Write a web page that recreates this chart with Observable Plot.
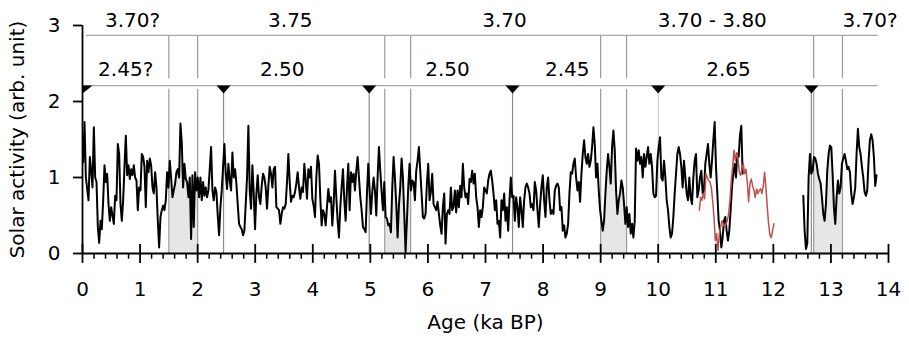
<!DOCTYPE html>
<html><head><meta charset="utf-8">
<script src="https://cdn.jsdelivr.net/npm/d3@7"></script>
<script src="https://cdn.jsdelivr.net/npm/@observablehq/plot@0.6"></script>
<style>html,body{margin:0;padding:0;background:#fff} svg{display:block}</style>
</head><body><div id="chart"></div>
<script>
const blackStartA = 0.012, blackStartB = 12.52, redStart = 10.714, ageStep = 0.02314;

// Black solar-activity series, 0 – 11.5 ka
const blackA = [
1.20,1.73,1.00,0.85,0.70,1.27,1.09,0.87,1.66,1.00,
0.94,0.35,0.14,0.43,0.32,0.70,1.16,0.94,1.05,0.65,
0.43,0.61,0.50,0.39,0.76,0.70,1.44,1.31,0.65,0.43,
0.70,1.14,1.55,1.03,1.16,0.98,1.11,1.03,1.16,1.00,
0.96,0.57,0.87,0.83,1.31,1.27,1.14,0.61,1.22,1.07,
1.25,1.16,0.87,0.79,1.07,0.87,0.43,0.08,0.48,0.57,
0.63,0.57,0.70,1.07,0.87,1.22,1.00,0.74,0.83,0.92,
1.07,1.11,1.00,1.71,1.46,0.87,1.18,0.98,0.94,0.74,
1.00,0.19,1.03,0.35,1.07,0.83,1.00,0.74,1.00,0.70,
0.94,0.76,0.87,0.74,0.83,1.11,1.40,0.83,0.70,0.87,
0.81,0.50,0.24,0.61,0.83,1.14,1.44,1.05,0.85,1.18,
0.96,0.83,1.33,1.00,1.11,0.92,0.65,0.39,0.35,0.32,
0.24,0.30,0.65,1.00,1.68,0.83,0.59,1.16,0.79,0.32,
0.79,1.03,0.74,0.65,0.89,1.05,1.00,0.87,0.59,0.89,
1.14,1.05,0.87,1.11,1.14,0.61,0.59,0.57,0.39,0.52,
0.61,0.59,0.65,0.94,1.31,0.94,0.68,0.76,0.74,0.81,
0.92,1.07,0.87,0.72,0.87,0.81,1.18,0.96,0.72,1.11,
1.00,1.14,0.72,0.63,0.48,1.00,1.29,1.18,0.72,0.37,
0.57,0.52,0.37,0.61,0.85,0.68,0.74,0.37,0.65,1.09,
0.74,0.43,0.21,0.61,0.87,1.11,0.70,0.43,0.85,1.18,
0.57,1.07,0.94,1.05,0.83,1.09,1.27,1.00,0.74,0.57,
0.35,0.32,0.28,0.79,1.18,0.83,0.52,0.81,1.00,0.83,
0.50,1.00,1.40,1.09,0.81,0.57,0.94,0.48,0.46,0.37,
0.39,0.28,0.87,1.27,1.00,0.65,0.21,0.63,0.87,1.25,
1.00,
0.52,0.02,0.43,0.87,1.18,0.83,0.96,0.94,0.70,
1.09,1.22,1.40,1.09,0.79,0.48,0.46,0.52,0.92,1.18,
0.70,0.81,1.05,0.65,0.61,0.57,0.68,0.52,0.37,0.26,
0.61,0.79,0.13,0.52,0.57,0.52,0.87,0.57,0.61,0.83,
0.54,0.83,0.61,0.89,0.74,1.18,0.87,0.74,0.79,0.65,
0.98,0.94,1.09,0.92,1.05,0.74,0.61,0.35,0.57,0.48,
0.61,0.87,0.83,0.79,0.96,1.05,1.09,0.96,0.79,0.57,
0.70,0.39,0.43,0.21,0.70,0.57,0.79,0.43,0.61,0.30,
0.70,1.00,0.74,0.76,0.43,0.74,0.61,0.35,0.74,0.57,
0.35,0.70,0.87,0.92,0.87,0.79,0.61,0.65,0.57,0.94,
0.83,0.57,0.35,0.65,0.87,1.03,0.70,0.48,0.87,1.00,
0.70,0.52,0.57,0.52,0.83,0.89,0.92,0.87,0.57,0.61,
0.30,0.37,0.21,
0.26,0.39,0.79,1.07,1.05,1.18,1.25,1.00,0.83,0.94,
0.68,1.05,1.31,1.49,1.27,1.18,1.31,1.14,1.22,1.40,
1.66,1.44,1.00,1.18,0.83,0.57,0.43,0.30,0.43,0.79,
1.09,1.31,1.14,0.92,1.40,1.62,1.36,0.83,0.52,0.70,
0.79,0.96,0.87,0.65,0.39,0.61,0.35,0.52,0.26,0.39,
0.21,0.43,1.38,1.22,1.36,1.18,1.27,1.00,1.31,1.14,
1.27,1.40,1.18,1.31,1.14,0.79,0.74,0.76,1.22,1.40,
1.53,1.00,0.96,1.22,1.00,0.70,0.57,0.35,0.21,0.26,
0.48,0.79,1.05,1.31,1.40,1.31,1.14,0.87,1.22,1.00,
0.79,0.70,1.00,0.74,0.65,1.00,1.22,1.31,0.74,0.83,
1.00,1.09,0.79,0.83,1.18,1.31,1.44,1.18,1.00,1.22,
1.49,1.73,1.14,0.79,0.43,0.30,0.08,0.21,0.43,0.48,
0.30,0.17,
0.30,0.57,0.87,1.05,1.18,1.00,1.31,1.27,1.55,1.68,1.05
];

// Black series after the gap, 12.5 – 13.8 ka
const blackB = [
0.76,0.30,0.06,0.13,1.00,1.31,1.05,1.09,1.27,1.25,
1.18,1.05,0.98,0.92,0.74,0.52,0.43,0.65,1.09,1.31,
1.42,1.40,1.05,0.61,0.39,0.74,0.96,0.79,0.87,1.18,
1.25,1.31,1.22,1.11,1.14,1.07,0.79,0.65,0.74,0.87,
1.31,1.64,1.40,1.31,1.14,1.00,0.81,0.76,0.83,1.22,
1.49,1.57,1.49,1.27,0.89,1.03
];

// Red series, 10.7 – 12.0 ka
const redSeries = [
0.57,0.74,0.70,0.79,0.72,1.05,1.00,0.96,0.94,0.87,
0.70,0.48,0.17,0.26,0.04,0.26,0.35,0.43,0.39,0.35,0.39,
0.43,0.52,0.70,0.96,1.14,1.36,1.22,1.33,1.25,1.07,
1.03,1.11,1.18,1.05,1.11,0.94,0.68,0.92,0.98,0.89,
0.83,0.74,0.85,0.79,0.83,0.85,0.79,0.89,1.07,0.87,
0.61,0.39,0.24,0.21,0.30,0.39
];

const shadedIntervals = [[1.5, 2.0], [5.25, 5.7], [9.0, 9.45], [12.7, 13.2]];
const boundaryAges = [1.5, 2.0, 5.25, 5.7, 9.0, 9.45, 12.7, 13.2];
const triangleAges = [2.45, 4.98, 7.47, 10.0, 12.66];
const row1Labels = ["3.70?", "3.75", "3.70", "3.70 - 3.80", "3.70?"];
const row1Ages = [0.87, 3.61, 7.33, 10.94, 13.68];
const row2Labels = ["2.45?", "2.50", "2.50", "2.45", "2.65"];
const row2Ages = [0.75, 3.47, 6.34, 8.42, 11.22];
const xTicks = [0,1,2,3,4,5,6,7,8,9,10,11,12,13,14];
const yTicks = [0,1,2,3];
const minorTicks = d3.range(1, 70).map(i => i / 5).filter(t => Math.abs(t - Math.round(t)) > 1e-6);

const toRows = (vals, start) => vals.map((v, i) => ({age: start + i * ageStep, value: v}));
const rowsA = toRows(blackA, blackStartA);
const rowsB = toRows(blackB, blackStartB);
const rowsRed = toRows(redSeries, redStart);
const allBlack = rowsA.concat(rowsB);

const row1 = row1Labels.map((t, i) => ({age: row1Ages[i], text: t}));
const row2 = row2Labels.map((t, i) => ({age: row2Ages[i], text: t}));

const Y_TOP = 2.87, Y_MID = 2.21;
const triDown = {draw(ctx) { ctx.moveTo(-7, 0); ctx.lineTo(7, 0); ctx.lineTo(0, 8); ctx.closePath(); }};
const halfTri = {draw(ctx) { ctx.moveTo(0, 0); ctx.lineTo(10, 0); ctx.lineTo(0, 8); ctx.closePath(); }};

const FONT = "DejaVu Sans";

const plot = Plot.plot({
  width: 909, height: 338,
  marginLeft: 82, marginRight: 21, marginTop: 25, marginBottom: 85,
  style: {fontFamily: FONT, fontSize: "20px", background: "#fff", overflow: "visible"},
  x: {domain: [0, 14]},
  y: {domain: [0, 3]},
  marks: [
    ...shadedIntervals.map(([a, b]) =>
      Plot.areaY(allBlack.filter(d => d.age >= a - 0.005 && d.age <= b + 0.005), {x: "age", y: "value", fill: "#e6e6e6"})),
    Plot.ruleX(boundaryAges, {x: d => d, y1: 0, y2: 2.16, stroke: "#9a9a9a", strokeWidth: 1.2}),
    Plot.ruleX(boundaryAges, {x: d => d, y1: 2.30, y2: Y_TOP, stroke: "#9a9a9a", strokeWidth: 1.2}),
    Plot.ruleX(triangleAges, {x: d => d, y1: 0, y2: Y_MID, stroke: d => d === 10 ? "#d0d0d0" : "#8c8c8c", strokeWidth: 1.2}),
    Plot.ruleY([Y_TOP], {x1: 0.07, x2: 13.82, stroke: "#a6a6a6", strokeWidth: 1.2}),
    Plot.ruleY([Y_MID], {x1: 0, x2: 13.82, stroke: "#a6a6a6", strokeWidth: 1.2}),
    Plot.dot(triangleAges, {x: d => d, y: Y_MID, symbol: triDown, fill: "black", stroke: "none"}),
    Plot.dot([0], {x: d => d, y: Y_MID, symbol: halfTri, fill: "black", stroke: "none"}),
    Plot.line(rowsA, {x: "age", y: "value", stroke: "#000", strokeWidth: 2, strokeLinejoin: "round"}),
    Plot.line(rowsB, {x: "age", y: "value", stroke: "#000", strokeWidth: 2, strokeLinejoin: "round"}),
    Plot.line(rowsRed, {x: "age", y: "value", stroke: "#c0504d", strokeWidth: 1.5, strokeLinejoin: "round"}),
    // axes
    Plot.ruleX([0], {y1: 0, y2: 3, stroke: "#000", strokeWidth: 1.8}),
    Plot.ruleY([0], {x1: 0, x2: 14, stroke: "#000", strokeWidth: 1.8}),
    Plot.ruleX(minorTicks, {x: d => d, y1: 0, y2: -0.075, stroke: "#000", strokeWidth: 1.5}),
    Plot.ruleX(xTicks, {x: d => d, y1: -0.13, y2: 0.12, stroke: "#000", strokeWidth: 1.8}),
    Plot.axisX({ticks: xTicks, tickSize: 0, tickPadding: 28, fontSize: 20, label: null, tickFormat: d => String(d)}),
    Plot.axisY({ticks: yTicks, tickSize: 9, tickPadding: 13, fontSize: 20, label: null, strokeWidth: 1.8, tickFormat: d => String(d)}),
    Plot.text(["Age (ka BP)"], {frameAnchor: "bottom", dy: 69, text: d => d, fontSize: 20, lineAnchor: "middle", textAnchor: "middle"}),
    Plot.text(["Solar activity (arb. unit)"], {frameAnchor: "left", dx: -65, rotate: -90, text: d => d, fontSize: 20, lineAnchor: "middle", textAnchor: "middle"}),
    // annotation rows
    Plot.text(row1, {x: "age", y: 3.07, text: "text", fontSize: 20, lineAnchor: "middle"}),
    Plot.text(row2, {x: "age", y: 2.42, text: "text", fontSize: 20, lineAnchor: "middle"})
  ]
});
document.getElementById("chart").appendChild(plot);
</script>
</body></html>
